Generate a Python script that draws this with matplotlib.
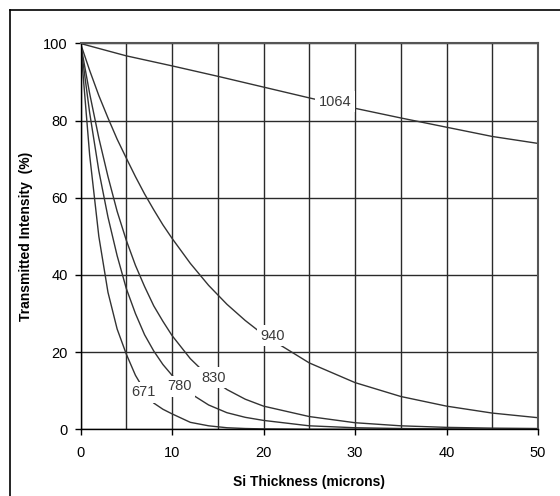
import matplotlib.pyplot as plt
from matplotlib.lines import Line2D

plt.rcParams['font.family'] = ['Liberation Sans', 'DejaVu Sans']

# thickness values (microns)
xFine = [0, 1, 2, 3, 4, 5, 6, 7, 8, 9, 10, 12, 14, 16, 18, 20, 25, 30, 35, 40, 45, 50]
xCoarse = [0, 5, 10, 15, 20, 25, 30, 35, 40, 45, 50]

# transmitted intensity (%) per wavelength (nm)
t671 = [100, 71, 50, 35.5, 26, 19.5, 14, 10, 6.8, 5.2, 4, 1.8, 0.9, 0.4, 0.2, 0.1, 0, 0, 0, 0, 0, 0]
t780 = [100, 82, 67, 55, 45, 36.5, 30, 24.5, 20.3, 16.8, 14, 9.3, 6.3, 4.3, 3.1, 2.3, 0.9, 0.4, 0.2, 0.1, 0, 0]
t830 = [100, 87, 75.5, 65.5, 56.5, 49, 42.5, 37, 32, 28, 24.3, 18.3, 13.7, 10.3, 7.8, 6, 3.3, 1.7, 0.9, 0.5, 0.3, 0.2]
t940 = [100, 93, 86.5, 80.7, 75.2, 70.3, 65.5, 61, 56.9, 53, 49.5, 43, 37.3, 32.4, 28.2, 24.5,
        17.2, 12.1, 8.5, 6, 4.2, 3]
t1064 = [100, 96.8, 94.2, 91.5, 88.7, 85.9, 83.2, 80.7, 78.3, 75.9, 74.1]

# curve labels: text, x, y
labels = ["671", "780", "830", "940", "1064"]
labelX = [6.9, 10.8, 14.6, 21.0, 27.8]
labelY = [9.6, 11.2, 13.4, 24.2, 84.9]

fig = plt.figure(figsize=(5.6, 4.96), dpi=100)
ax = fig.add_axes([0.1438, 0.1345, 0.817, 0.7778])

lineColor = '#333333'
ax.plot(xFine, t671, color=lineColor, lw=1.0)
ax.plot(xFine, t780, color=lineColor, lw=1.0)
ax.plot(xFine, t830, color=lineColor, lw=1.0)
ax.plot(xFine, t940, color=lineColor, lw=1.0)
ax.plot(xCoarse, t1064, color=lineColor, lw=1.0)

for n in range(len(labels)):
    ax.text(labelX[n], labelY[n], labels[n], fontsize=10.5, color='#3a3a3a',
            ha='center', va='center', zorder=5,
            bbox=dict(facecolor='white', edgecolor='none', pad=2.5))

ax.set_xlim(0, 50)
ax.set_ylim(0, 100)
ax.set_xticks(range(0, 51, 10))
ax.set_xticks(range(0, 51, 5), minor=True)
ax.set_yticks(range(0, 101, 20))
ax.grid(True, which='both', color='#2a2a2a', lw=1.0)
ax.set_axisbelow(True)
ax.tick_params(axis='both', which='major', direction='out', length=4.3, width=1,
               labelsize=10.5, colors='black')
ax.tick_params(axis='x', which='major', pad=7.5)
ax.tick_params(axis='y', which='major', pad=5)
ax.tick_params(which='minor', length=0)

for side in ['left', 'bottom']:
    ax.spines[side].set_color('black')
    ax.spines[side].set_linewidth(1.0)
for side in ['top', 'right']:
    ax.spines[side].set_color('#555555')
    ax.spines[side].set_linewidth(1.5)

ax.set_xlabel("Si Thickness (microns)", fontsize=10, fontweight='bold', labelpad=11)
ax.set_ylabel("Transmitted Intensity  (%)", fontsize=10, fontweight='bold', labelpad=7)

# outer frame (cut off at right and bottom)
fx = 10 / 560
fy = 1 - 10 / 496
fig.add_artist(Line2D([fx, fx], [0, fy], color='black', lw=1.2))
fig.add_artist(Line2D([fx, 1], [fy, fy], color='black', lw=1.2))

fig.savefig("out.png", dpi=100)
